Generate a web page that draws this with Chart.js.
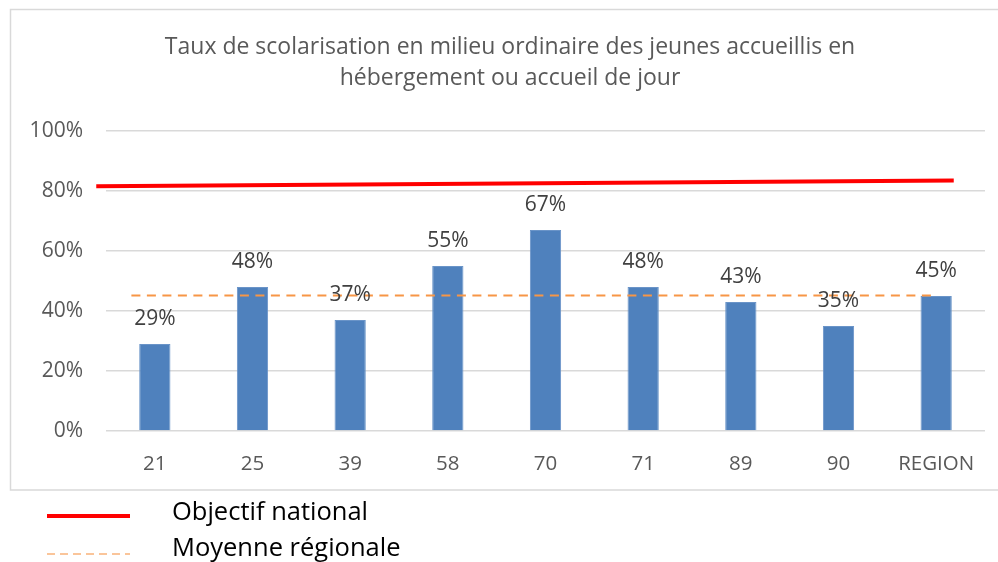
<!DOCTYPE html>
<html>
<head>
<meta charset="utf-8">
<script src="https://cdn.jsdelivr.net/npm/chart.js@4.4.1/dist/chart.umd.min.js"></script>
<style>
  html, body { margin: 0; padding: 0; background: #ffffff; }
  #wrap { width: 998px; height: 562px; position: relative; }
</style>
</head>
<body>
<div id="wrap"><canvas id="myBarChart"></canvas></div>
<script>
var titleLines = ['Taux de scolarisation en milieu ordinaire des jeunes accueillis en', 'hébergement ou accueil de jour'];
var departements = ['21', '25', '39', '58', '70', '71', '89', '90', 'REGION'];
var tauxScolarisation = [29, 48, 37, 55, 67, 48, 43, 35, 45];
var yTicks = [0, 20, 40, 60, 80, 100];

// trait "Objectif national" (debut / fin, en unites de categorie)
var objectifX = [-0.1, 8.68];
var objectifY = [81.6, 83.5];
// trait "Moyenne regionale"
var moyenneX = [0.26, 8.49];
var moyenneY = [45.2, 45.2];

var FONT = '"Open Sans", sans-serif';

function toPoints(xs, ys) {
    var pts = [];
    for (var i = 0; i < xs.length; i++) {
        pts.push({ x: xs[i], y: ys[i] });
    }
    return pts;
}

var decorPlugin = {
    id: 'decor',
    beforeDraw: function(chart) {
        var ctx = chart.ctx;
        ctx.save();
        ctx.strokeStyle = '#d9d9d9';
        ctx.lineWidth = 1.5;
        ctx.strokeRect(10.5, 9.5, chart.width + 20, 480.5);
        ctx.fillStyle = '#595959';
        ctx.font = '23px ' + FONT;
        ctx.textAlign = 'center';
        ctx.textBaseline = 'middle';
        ctx.fillText(titleLines[0], 510, 47);
        ctx.fillText(titleLines[1], 510, 78);
        ctx.restore();
    },
    afterDatasetsDraw: function(chart) {
        var ctx = chart.ctx;
        var meta = chart.getDatasetMeta(0);
        ctx.save();
        ctx.fillStyle = '#404040';
        ctx.font = '21px ' + FONT;
        ctx.textAlign = 'center';
        ctx.textBaseline = 'middle';
        for (var i = 0; i < meta.data.length; i++) {
            var bar = meta.data[i];
            ctx.fillText(tauxScolarisation[i] + '%', bar.x, bar.y - 25);
        }
        ctx.restore();
    },
    afterDraw: function(chart) {
        var ctx = chart.ctx;
        var rows = [1, 2];
        var ys = [516, 554];
        var textYs = [513, 549];
        ctx.save();
        for (var i = 0; i < rows.length; i++) {
            var ds = chart.data.datasets[rows[i]];
            ctx.beginPath();
            ctx.strokeStyle = i === 0 ? ds.borderColor : '#f9b27a';
            ctx.lineWidth = i === 0 ? ds.borderWidth : 1.5;
            ctx.setLineDash(i === 0 ? [] : [8, 5]);
            ctx.moveTo(47, ys[i]);
            ctx.lineTo(130, ys[i]);
            ctx.stroke();
            ctx.setLineDash([]);
            ctx.fillStyle = '#000000';
            ctx.font = '25.5px ' + FONT;
            ctx.textAlign = 'left';
            ctx.textBaseline = 'middle';
            ctx.fillText(ds.label, 172, textYs[i]);
        }
        ctx.restore();
    }
};

var ctx = document.getElementById('myBarChart');
var myChart = new Chart(ctx, {
    type: 'bar',
    data: {
        labels: departements,
        datasets: [{
            label: 'Taux de scolarisation',
            data: tauxScolarisation,
            xAxisID: 'x',
            backgroundColor: '#4f81bd',
            borderColor: '#6a94c8',
            borderWidth: 1,
            grouped: false,
            barPercentage: 0.32,
            categoryPercentage: 1,
            order: 3
        }, {
            type: 'line',
            label: 'Objectif national',
            data: toPoints(objectifX, objectifY),
            xAxisID: 'xl',
            borderColor: '#ff0000',
            borderWidth: 4,
            pointRadius: 0,
            fill: false,
            clip: false,
            order: 1
        }, {
            type: 'line',
            label: 'Moyenne régionale',
            data: toPoints(moyenneX, moyenneY),
            xAxisID: 'xl',
            borderColor: '#f79646',
            borderWidth: 2,
            borderDash: [9, 6.5],
            pointRadius: 0,
            fill: false,
            clip: false,
            order: 2
        }]
    },
    options: {
        responsive: true,
        maintainAspectRatio: false,
        animation: false,
        layout: { padding: { top: 131, right: 13, bottom: 72, left: 0 } },
        plugins: {
            legend: { display: false },
            tooltip: { enabled: false },
            title: { display: false }
        },
        scales: {
            x: {
                type: 'category',
                grid: { display: false },
                border: { display: false },
                ticks: { color: '#595959', font: { family: FONT, size: 20.5 }, padding: 13, maxRotation: 0 },
                afterFit: function(scale) { scale.height = 59; }
            },
            xl: {
                type: 'linear',
                display: false,
                offset: false,
                min: 0,
                max: departements.length
            },
            y: {
                min: yTicks[0],
                max: yTicks[yTicks.length - 1],
                afterBuildTicks: function(scale) {
                    scale.ticks = yTicks.map(function(v) { return { value: v }; });
                },
                grid: { color: '#d9d9d9', lineWidth: 1.5, drawTicks: false },
                border: { display: false },
                ticks: {
                    color: '#595959',
                    font: { family: FONT, size: 21 },
                    padding: 23,
                    callback: function(v) { return v + '%'; }
                },
                afterFit: function(scale) { scale.width = 106; }
            }
        }
    },
    plugins: [decorPlugin]
});
</script>
</body>
</html>
